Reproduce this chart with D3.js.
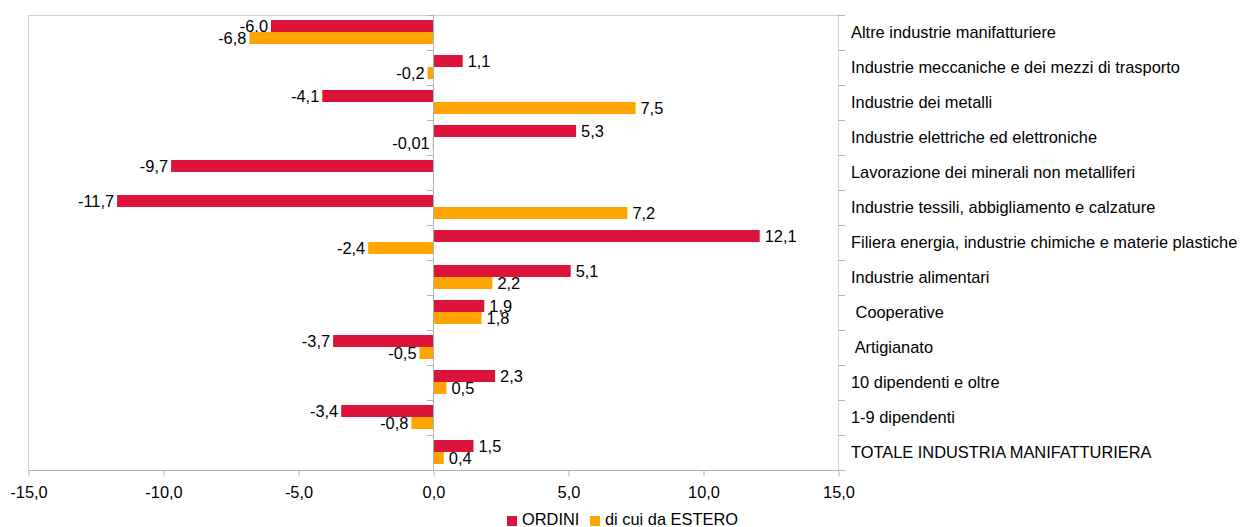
<!DOCTYPE html>
<html>
<head>
<meta charset="utf-8">
<script src="https://cdn.jsdelivr.net/npm/d3@7"></script>
<style>
  body { margin: 0; background: #fff; }
  text { font-family: "Liberation Sans", Arial, sans-serif; fill: #000; }
</style>
</head>
<body>
<svg id="chart" width="1240" height="527"></svg>
<script>
// categories, top to bottom
const categories = [
  'Altre industrie manifatturiere',
  'Industrie meccaniche e dei mezzi di trasporto',
  'Industrie dei metalli',
  'Industrie elettriche ed elettroniche',
  'Lavorazione dei minerali non metalliferi',
  'Industrie tessili, abbigliamento e calzature',
  'Filiera energia, industrie chimiche e materie plastiche',
  'Industrie alimentari',
  ' Cooperative',
  ' Artigianato',
  '10 dipendenti e oltre',
  '1-9 dipendenti',
  'TOTALE INDUSTRIA MANIFATTURIERA'
];
const ordini = [-6.0, 1.1, -4.1, 5.3, -9.7, -11.7, 12.1, 5.1, 1.9, -3.7, 2.3, -3.4, 1.5];
const estero = [-6.8, -0.2, 7.5, -0.01, null, 7.2, -2.4, 2.2, 1.8, -0.5, 0.5, -0.8, 0.4];
const xTicks = [-15, -10, -5, 0, 5, 10, 15];
const seriesNames = ['ORDINI', 'di cui da ESTERO'];
const seriesColors = ['#dc143c', '#ffa500'];

const svg = d3.select('#chart');
const plotLeft = 28, plotRight = 838, plotTop = 15, plotBottom = 470;
const fontSize = 16.4;

const x = d3.scaleLinear().domain([-15, 15]).range([plotLeft, plotRight]);
const y = d3.scaleBand().domain(d3.range(categories.length)).range([plotTop, plotBottom]);
const barH = 12;
const barOffset = 5;

const fmt = v => {
  const s = Math.abs(v) < 0.1 && v !== 0 ? v.toFixed(2) : v.toFixed(1);
  return s.replace('.', ',');
};

// frame
svg.append('rect')
  .attr('x', plotLeft + 0.5).attr('y', plotTop + 0.5)
  .attr('width', plotRight - plotLeft).attr('height', plotBottom - plotTop)
  .attr('fill', 'none').attr('stroke', '#d0d0d0');

// bars + value labels
const series = [ordini, estero];
series.forEach((vals, si) => {
  vals.forEach((v, i) => {
    if (v === null) return;
    const y0 = y(i) + barOffset + si * barH;
    svg.append('rect')
      .attr('x', Math.min(x(0), x(v)))
      .attr('y', y0)
      .attr('width', Math.abs(x(v) - x(0)))
      .attr('height', barH)
      .attr('fill', seriesColors[si]);
    svg.append('text')
      .attr('x', v < 0 ? x(v) - 3 : x(v) + 5)
      .attr('y', y0 + barH / 2)
      .attr('dy', '0.35em')
      .attr('text-anchor', v < 0 ? 'end' : 'start')
      .attr('font-size', fontSize)
      .text(fmt(v));
  });
});

// zero axis with category ticks
svg.append('line')
  .attr('x1', x(0) + 0.5).attr('x2', x(0) + 0.5)
  .attr('y1', plotTop).attr('y2', plotBottom)
  .attr('stroke', '#b3b3b3');
d3.range(categories.length + 1).forEach(i => {
  const yy = Math.round(plotTop + i * y.step()) + 0.5;
  svg.append('line')
    .attr('x1', x(0) - 6).attr('x2', x(0))
    .attr('y1', yy).attr('y2', yy)
    .attr('stroke', '#b3b3b3');
  svg.append('line')
    .attr('x1', plotRight).attr('x2', plotRight + 7)
    .attr('y1', yy).attr('y2', yy)
    .attr('stroke', '#b3b3b3');
});

// category labels on the right
svg.selectAll('.cat')
  .data(categories)
  .enter().append('text')
  .attr('class', 'cat')
  .attr('x', 851)
  .attr('y', (d, i) => y(i) + y.bandwidth() / 2)
  .attr('dy', '0.35em')
  .attr('font-size', fontSize)
  .style('white-space', 'pre')
  .text(d => d);

// x axis
const xAxis = svg.append('g')
  .attr('transform', `translate(0.5,${plotBottom + 0.5})`)
  .call(d3.axisBottom(x).tickValues(xTicks).tickSize(6).tickFormat(d => d.toFixed(1).replace('.', ',')));
xAxis.select('.domain').attr('stroke', '#b3b3b3').attr('d', `M${plotLeft},0H${plotRight + 7}`);
xAxis.selectAll('.tick line').attr('stroke', '#b3b3b3');
xAxis.selectAll('.tick text')
  .attr('font-size', fontSize)
  .attr('font-family', '"Liberation Sans", Arial, sans-serif')
  .attr('fill', '#000')
  .attr('y', 16);

// legend
const legend = svg.append('g');
const legendX = [507, 590];
seriesNames.forEach((name, i) => {
  legend.append('rect')
    .attr('x', legendX[i]).attr('y', 516)
    .attr('width', 10).attr('height', 10)
    .attr('fill', seriesColors[i]);
  legend.append('text')
    .attr('x', legendX[i] + 15).attr('y', 519)
    .attr('dy', '0.35em')
    .attr('font-size', fontSize)
    .text(name);
});
</script>
</body>
</html>
